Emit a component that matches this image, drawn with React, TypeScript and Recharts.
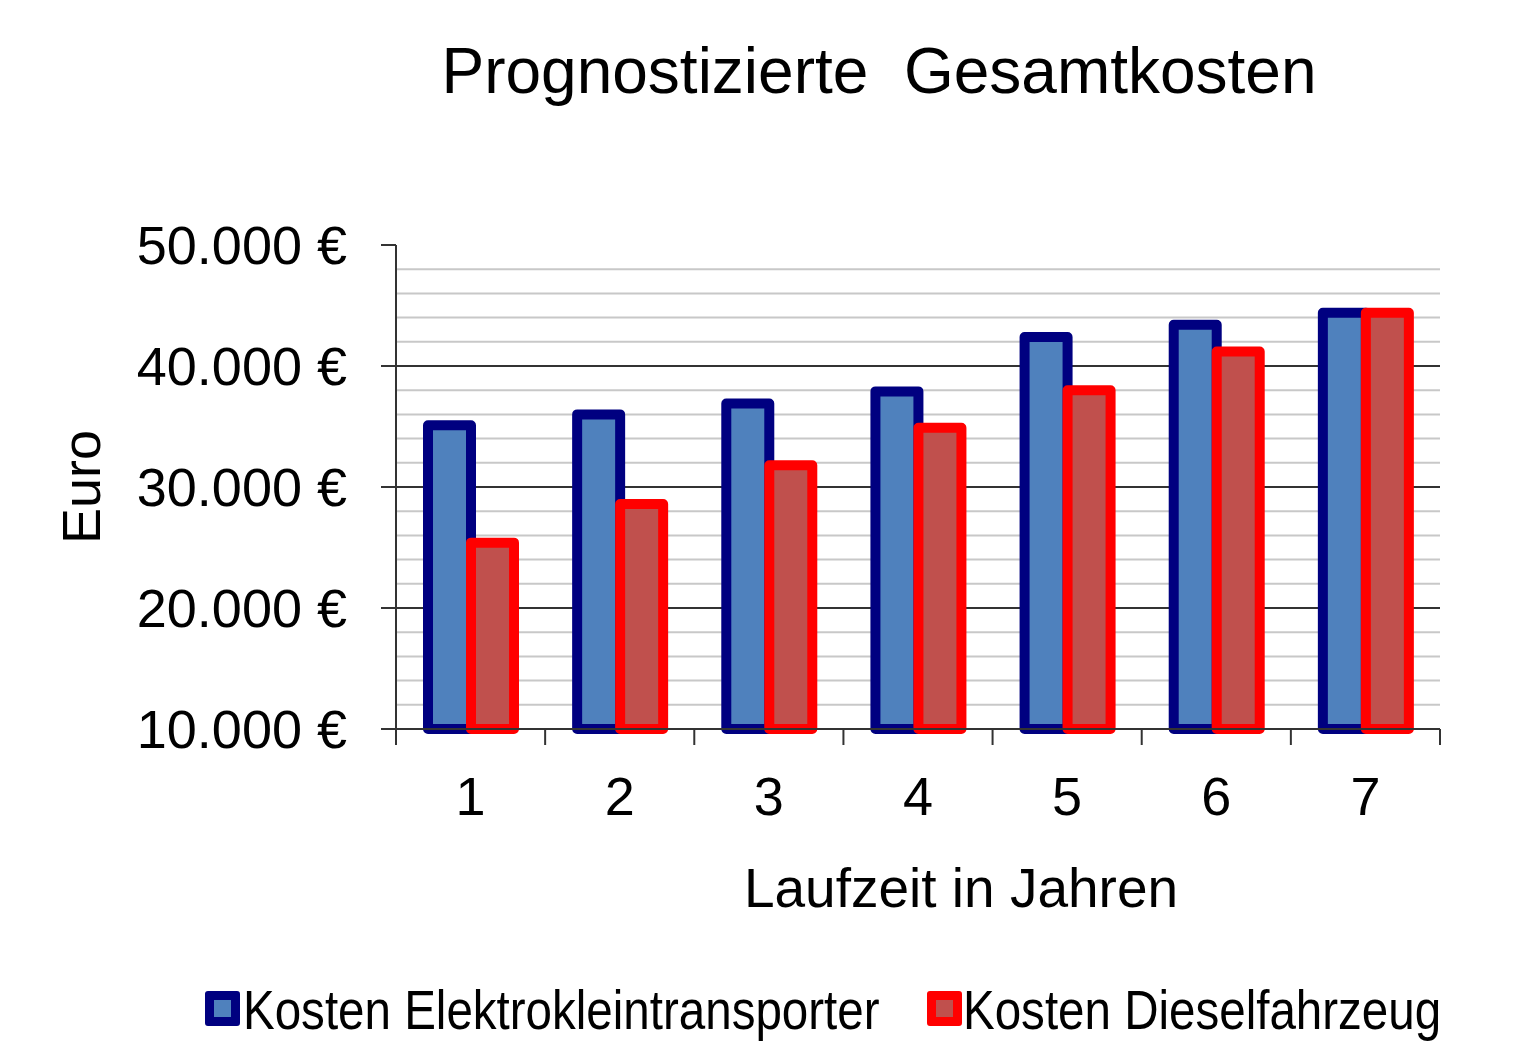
import { BarChart, Bar, XAxis, YAxis, CartesianGrid, Legend } from 'recharts';

const years = ['1', '2', '3', '4', '5', '6', '7'];
const elektro = [35100, 36000, 36900, 37900, 42400, 43400, 44400];
const diesel = [25400, 28600, 31800, 34900, 38000, 41200, 44400];
const yTicks = [10000, 20000, 30000, 40000, 50000];
const majorGrid = [20000, 30000, 40000];
const minorGrid = [12000, 14000, 16000, 18000, 22000, 24000, 26000, 28000, 32000, 34000, 36000, 38000, 42000, 44000, 46000, 48000];

const data = years.map((y, i) => ({ year: y, elektro: elektro[i], diesel: diesel[i] }));

const FONT = '"Liberation Sans", Arial, sans-serif';
const AXIS = '#333';

const euro = (v: number) => `${v / 1000}.000 €`;

// category ticks sit on the band borders, labels in the middle
const XTick = (props: any) => {
  const { x, y, payload, index, width, visibleTicksCount } = props;
  const half = width / visibleTicksCount / 2;
  const axisY = y - 48;
  return (
    <g>
      <line x1={x - half} x2={x - half} y1={axisY} y2={axisY + 16} stroke={AXIS} strokeWidth={2} />
      {index === visibleTicksCount - 1 && (
        <line x1={x + half} x2={x + half} y1={axisY} y2={axisY + 16} stroke={AXIS} strokeWidth={2} />
      )}
      <text x={x} y={y} dy="0.71em" textAnchor="middle" fontSize={54} fontFamily={FONT} fill="#000">
        {payload.value}
      </text>
    </g>
  );
};

const LegendBox = () => {
  const sq = (left: number, border: string, fill: string) => (
    <div style={{
      position: 'absolute', left, top: 8, width: 35, height: 35, boxSizing: 'border-box',
      border: `9px solid ${border}`, borderRadius: 3, background: fill,
    }} />
  );
  const txt = (left: number, label: string) => (
    <div style={{
      position: 'absolute', left, top: 0, fontSize: 55, lineHeight: '55px', fontFamily: FONT,
      whiteSpace: 'pre', transform: 'scaleX(0.864)', transformOrigin: 'left top', color: '#000',
    }}>{label}</div>
  );
  return (
    <div style={{ position: 'relative', height: 60 }}>
      {sq(197, '#000080', '#4F81BD')}
      {txt(235, 'Kosten Elektrokleintransporter')}
      {sq(919, '#FF0000', '#C0504D')}
      {txt(955, 'Kosten Dieselfahrzeug')}
    </div>
  );
};

export default function App() {
  return (
    <div style={{ position: 'relative', width: 1507, height: 1035, overflow: 'hidden', fontFamily: FONT }}>
      <div style={{
        position: 'absolute', left: 371, top: 31, width: 1000, textAlign: 'center',
        fontSize: 64, lineHeight: '64px', whiteSpace: 'pre', color: '#000',
      }}>
        Prognostizierte  Gesamtkosten
      </div>
      <BarChart
        width={1507}
        height={1035}
        data={data}
        margin={{ top: 237, right: 75, left: 0, bottom: 114 }}
        barGap={0}
        barSize={43}
      >
        <CartesianGrid vertical={false} horizontalValues={minorGrid} stroke="#c8c8c8" strokeWidth={2} />
        <CartesianGrid vertical={false} horizontalValues={majorGrid} stroke={AXIS} strokeWidth={2} />
        <XAxis
          dataKey="year"
          height={200}
          interval={0}
          tickLine={false}
          tickSize={16}
          tickMargin={32}
          axisLine={{ stroke: AXIS, strokeWidth: 2 }}
          tick={<XTick />}
          label={(p: any) => {
            const vb = p.viewBox;
            return (
              <text x={vb.x + vb.width / 2 + 43} y={vb.y + 178} textAnchor="middle" fontSize={55} fontFamily={FONT} fill="#000">
                Laufzeit in Jahren
              </text>
            );
          }}
        />
        <YAxis
          width={388}
          domain={[10000, 50000]}
          ticks={yTicks}
          interval={0}
          tickFormatter={euro}
          tickSize={15}
          tickMargin={34}
          tick={{ fontSize: 54, fill: '#000', fontFamily: FONT }}
          tickLine={{ stroke: AXIS, strokeWidth: 2 }}
          axisLine={{ stroke: AXIS, strokeWidth: 2 }}
          label={(p: any) => {
            const vb = p.viewBox;
            const cx = vb.x + 92;
            const cy = vb.y + vb.height / 2;
            return (
              <text x={cx} y={cy} transform={`rotate(-90, ${cx}, ${cy})`} textAnchor="middle" fontSize={54} fontFamily={FONT} fill="#000">
                Euro
              </text>
            );
          }}
        />
        <Legend
          layout="horizontal"
          verticalAlign="middle"
          align="center"
          wrapperStyle={{ top: 975, left: 0, width: 1507 }}
          content={() => <LegendBox />}
        />
        <Bar dataKey="elektro" name="Kosten Elektrokleintransporter" fill="#4F81BD" stroke="#000080"
          strokeWidth={10} strokeLinejoin="round" isAnimationActive={false} />
        <Bar dataKey="diesel" name="Kosten Dieselfahrzeug" fill="#C0504D" stroke="#FF0000"
          strokeWidth={10} strokeLinejoin="round" isAnimationActive={false} />
      </BarChart>
    </div>
  );
}
